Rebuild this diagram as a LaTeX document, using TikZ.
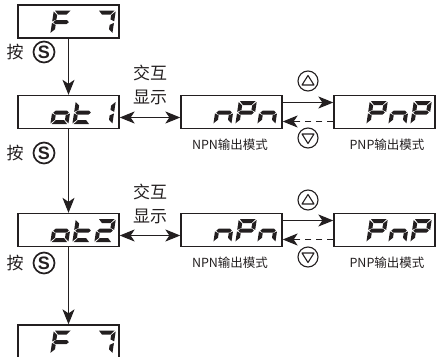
\documentclass[tikz,border=0pt]{standalone}
\usepackage{fontspec}
\usepackage{tikz}
\usetikzlibrary{calc,arrows.meta}
\newfontfamily\cjk{Noto Sans CJK SC}
\newfontfamily\lat{Liberation Sans}
\definecolor{ink}{HTML}{231F20}
\tikzset{
  disp/.style={draw=ink, line width=1.3pt, minimum width=101pt, minimum height=33pt, inner sep=0pt},
  seg/.style={fill=ink},
  link/.style={draw=ink, line width=1.2pt, ->},
  both/.style={draw=ink, line width=1.2pt, <->},
  back/.style={link, dash pattern=on 6pt off 5pt},
  key/.style={circle, draw=ink, line width=1.7pt, minimum size=21pt, inner sep=0pt, text=ink, font=\lat\bfseries\fontsize{18}{18}\selectfont},
  btn/.style={circle, draw=ink, line width=1.1pt, minimum size=20pt, inner sep=0pt},
  tri/.style={draw=ink, line width=1.1pt, line join=round},
  lab/.style={text=ink, font=\cjk\fontsize{17}{24}\selectfont, inner sep=0pt},
  labm/.style={text=ink, font=\cjk\fontsize{12.5}{12.5}\selectfont, inner sep=0pt},
}
% seven segments of one cell (origin bottom left, y up)
\newcommand{\sga}{\fill[seg] (1.2,23) -- (16.8,23) -- (13.2,19) -- (4.8,19) -- cycle;}
\newcommand{\sgb}{\fill[seg] (18,22.2) -- (18,12.3) -- (14,14.2) -- (14,18.6) -- cycle;}
\newcommand{\sgc}{\fill[seg] (18,10.7) -- (18,0.8) -- (14,4.4) -- (14,8.8) -- cycle;}
\newcommand{\sgd}{\fill[seg] (1.2,0) -- (16.8,0) -- (13.2,4) -- (4.8,4) -- cycle;}
\newcommand{\sge}{\fill[seg] (0,10.7) -- (0,0.8) -- (4,4.4) -- (4,8.8) -- cycle;}
\newcommand{\sgf}{\fill[seg] (0,22.2) -- (0,12.3) -- (4,14.2) -- (4,18.6) -- cycle;}
\newcommand{\sgg}{\fill[seg] (1.2,11.5) -- (3.4,13.5) -- (14.6,13.5) -- (16.8,11.5) -- (14.6,9.5) -- (3.4,9.5) -- cycle;}
\newcommand{\lcd}[3]{%
  \begin{scope}[shift={($(#1.south west)+(#2,-5)$)},y=1pt,xslant=0.15]
    \foreach \s in {#3} {\csname sg\s\endcsname}
  \end{scope}}
\begin{document}
\begin{tikzpicture}[x=1pt, y=-1pt, >={Stealth[length=15pt,width=12pt,inset=4pt]}]
  \useasboundingbox (0,0) rectangle (436,356);
  \clip (0,0) rectangle (436,356);

  \node[disp] (f7a)  at (68.5,21.5)  {};
  \node[disp] (ot1)  at (68.5,112) {};
  \node[disp] (ot2)  at (68.5,230) {};
  \node[disp] (f7b)  at (68.5,341.5) {};
  \node[disp] (npn1) at (231.5,112) {};
  \node[disp] (pnp1) at (384.5,112) {};
  \node[disp] (npn2) at (231.5,230) {};
  \node[disp] (pnp2) at (384.5,230) {};

  \lcd{f7a}{33}{a,e,f,g} \lcd{f7a}{77}{a,b,c}
  \lcd{ot1}{33}{c,d,e,g} \lcd{ot1}{55}{d,e,f,g} \lcd{ot1}{77}{b,c}
  \lcd{ot2}{33}{c,d,e,g} \lcd{ot2}{55}{d,e,f,g} \lcd{ot2}{77}{a,b,g,e,d}
  \lcd{f7b}{33}{a,e,f,g} \lcd{f7b}{77}{a,b,c}
  \lcd{npn1}{33}{c,e,g} \lcd{npn1}{55}{a,b,e,f,g} \lcd{npn1}{77}{c,e,g}
  \lcd{npn2}{33}{c,e,g} \lcd{npn2}{55}{a,b,e,f,g} \lcd{npn2}{77}{c,e,g}
  \lcd{pnp1}{33}{a,b,e,f,g} \lcd{pnp1}{55}{c,e,g} \lcd{pnp1}{77}{a,b,e,f,g}
  \lcd{pnp2}{33}{a,b,e,f,g} \lcd{pnp2}{55}{c,e,g} \lcd{pnp2}{77}{a,b,e,f,g}

  \draw[link] (f7a) -- (ot1);
  \draw[link] (ot1) -- (ot2);
  \draw[link] (ot2) -- (f7b);
  \node[lab] (pr1) at (15,52)  {按};
  \node[key] (s1)  at (44,52)  {S};
  \node[lab] (pr2) at (15,153) {按};
  \node[key] (s2)  at (44,153) {S};
  \node[lab] (pr3) at (15,263) {按};
  \node[key] (s3)  at (44,263) {S};

  \node[lab, align=center] (sw1) at (150,85)  {交互\\显示};
  \node[lab, align=center] (sw2) at (150,204) {交互\\显示};
  \draw[both] ([yshift=-5.5pt]ot1.east) -- ([yshift=-5.5pt]npn1.west);
  \draw[both] ([yshift=-5.5pt]ot2.east) -- ([yshift=-5.5pt]npn2.west);

  \draw[link] ([yshift=9.5pt]npn1.east) -- ([yshift=9.5pt]pnp1.west);
  \draw[back] ([yshift=-9.5pt]pnp1.west) -- ([yshift=-9.5pt]npn1.east);
  \draw[link] ([yshift=9.5pt]npn2.east) -- ([yshift=9.5pt]pnp2.west);
  \draw[back] ([yshift=-9.5pt]pnp2.west) -- ([yshift=-9.5pt]npn2.east);

  \node[btn] (up1) at (308,81)  {};
  \node[btn] (dn1) at (308,138) {};
  \node[btn] (up2) at (308,200) {};
  \node[btn] (dn2) at (308,257) {};
  \draw[tri] ($(up1)+(0,-5.5)$) -- ($(up1)+(-6,4)$) -- ($(up1)+(6,4)$) -- cycle;
  \draw[tri] ($(dn1)+(0,5.5)$) -- ($(dn1)+(-6,-4)$) -- ($(dn1)+(6,-4)$) -- cycle;
  \draw[tri] ($(up2)+(0,-5.5)$) -- ($(up2)+(-6,4)$) -- ($(up2)+(6,4)$) -- cycle;
  \draw[tri] ($(dn2)+(0,5.5)$) -- ($(dn2)+(-6,-4)$) -- ($(dn2)+(6,-4)$) -- cycle;

  \node[labm] (nl1) at (230,145) {NPN输出模式};
  \node[labm] (pl1) at (387,145) {PNP输出模式};
  \node[labm] (nl2) at (230,263) {NPN输出模式};
  \node[labm] (pl2) at (387,263) {PNP输出模式};
\end{tikzpicture}
\end{document}
